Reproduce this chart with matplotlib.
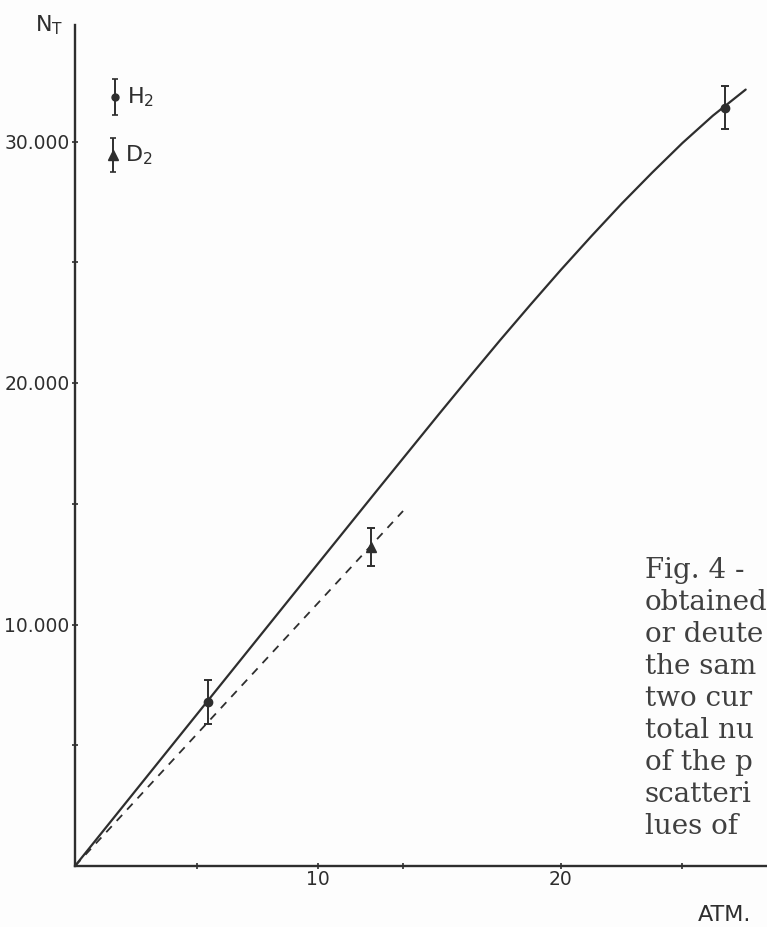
import matplotlib
matplotlib.use("Agg")
import matplotlib.pyplot as plt
from matplotlib.ticker import FixedLocator, FixedFormatter

# --- data -----------------------------------------------------------------
# hydrogen measurements (circles)
h2_pressure = [5.47, 26.75]
h2_counts = [6800, 31400]
h2_err = [900, 890]

# deuterium measurement (triangle)
d2_pressure = [12.2]
d2_counts = [13200]
d2_err = [790]

# fitted curve for hydrogen (solid)
h2_curve_p = [0, 2.5, 5, 7.5, 10, 12.5, 15, 16.25, 17.5, 18.75, 20, 21.25,
              22.5, 23.75, 25, 26.25, 27.6]
h2_curve_n = [0, 3130, 6260, 9390, 12520, 15640, 18740, 20270, 21780, 23250,
              24690, 26080, 27430, 28710, 29940, 31070, 32150]

# fitted line for deuterium (dashed)
d2_curve_p = [0, 13.5]
d2_curve_n = [0, 14700]

# axis ticks and labels
y_ticks = [5000, 10000, 15000, 20000, 25000, 30000]
y_tick_labels = ["", "10.000", "", "20.000", "", "30.000"]
x_ticks = [5, 10, 13.5, 20, 25]
x_tick_labels = ["", "10", "", "20", ""]

# key symbols drawn in the upper left corner
key_labels = ["H$_\\mathregular{2}$", "D$_\\mathregular{2}$"]
key_pos = [(1.65, 31840), (1.56, 29440)]
key_err = [730, 720]
key_markers = ["o", "^"]

caption_lines = ["Fig. 4 -", "obtained", "or deute", "the sam", "two cur",
                 "total nu", "of the p", "scatteri", "lues of"]

# --- figure ---------------------------------------------------------------
W, H = 767, 927
ink = "#2e2e2e"
fig = plt.figure(figsize=(W / 100, H / 100), dpi=100)
fig.patch.set_facecolor("#fdfdfd")

x0_px, y0_px = 75, 866          # origin position in pixels
px_per_atm = 24.3
px_per_count = 0.02415

ax = fig.add_axes([x0_px / W, (H - y0_px) / H, (W - x0_px) / W, y0_px / H])
ax.set_facecolor("none")
ax.set_xlim(0, (W - x0_px) / px_per_atm)
ax.set_ylim(0, y0_px / px_per_count)

for side in ("top", "right"):
    ax.spines[side].set_visible(False)
for side in ("left", "bottom"):
    ax.spines[side].set_color(ink)
    ax.spines[side].set_linewidth(1.7)
ax.spines["left"].set_bounds(0, (y0_px - 25) / px_per_count)

ax.yaxis.set_major_locator(FixedLocator(y_ticks))
ax.yaxis.set_major_formatter(FixedFormatter(y_tick_labels))
ax.xaxis.set_major_locator(FixedLocator(x_ticks))
ax.xaxis.set_major_formatter(FixedFormatter(x_tick_labels))
ax.tick_params(axis="both", direction="inout", length=5, width=1.2,
               color=ink, labelcolor=ink, labelsize=13.5)
ax.tick_params(axis="y", pad=1.5)
ax.tick_params(axis="x", pad=0.5)

# curves
ax.plot(h2_curve_p, h2_curve_n, color=ink, lw=1.6, solid_capstyle="round",
        solid_joinstyle="round")
ax.plot(d2_curve_p, d2_curve_n, color=ink, lw=1.3, linestyle=(0, (4.5, 4)))

# measurements with error bars
ax.errorbar(h2_pressure, h2_counts, yerr=h2_err, fmt="o", ms=6, color=ink,
            ecolor=ink, elinewidth=1.4, capsize=3, capthick=1.4)
ax.errorbar(d2_pressure, d2_counts, yerr=d2_err, fmt="^", ms=7, color=ink,
            ecolor=ink, elinewidth=1.4, capsize=3, capthick=1.4)

# key
for (kx, ky), ke, km, kl in zip(key_pos, key_err, key_markers, key_labels):
    ax.errorbar([kx], [ky], yerr=[ke], fmt=km, ms=5 if km == "o" else 6.5,
                color=ink, ecolor=ink, elinewidth=1.4, capsize=2, capthick=1.2,
                clip_on=False)
    ax.text(kx + 0.5, ky, kl, fontsize=16, color=ink, va="center", ha="left")

# axis titles
fig.text(35 / W, 1 - 31 / H, "N$_\\mathregular{T}$", fontsize=16, color=ink,
         ha="left", va="baseline")
fig.text(725 / W, 1 - 915 / H, "ATM.", fontsize=16, color=ink,
         ha="center", va="center")

# caption running off the right edge of the page
for i, line in enumerate(caption_lines):
    fig.text(645 / W, 1 - (578 + 32 * i) / H, line, fontsize=20,
             family="DejaVu Serif", color="#404040", ha="left", va="baseline")

fig.savefig("out.png", dpi=100, facecolor=fig.get_facecolor())
